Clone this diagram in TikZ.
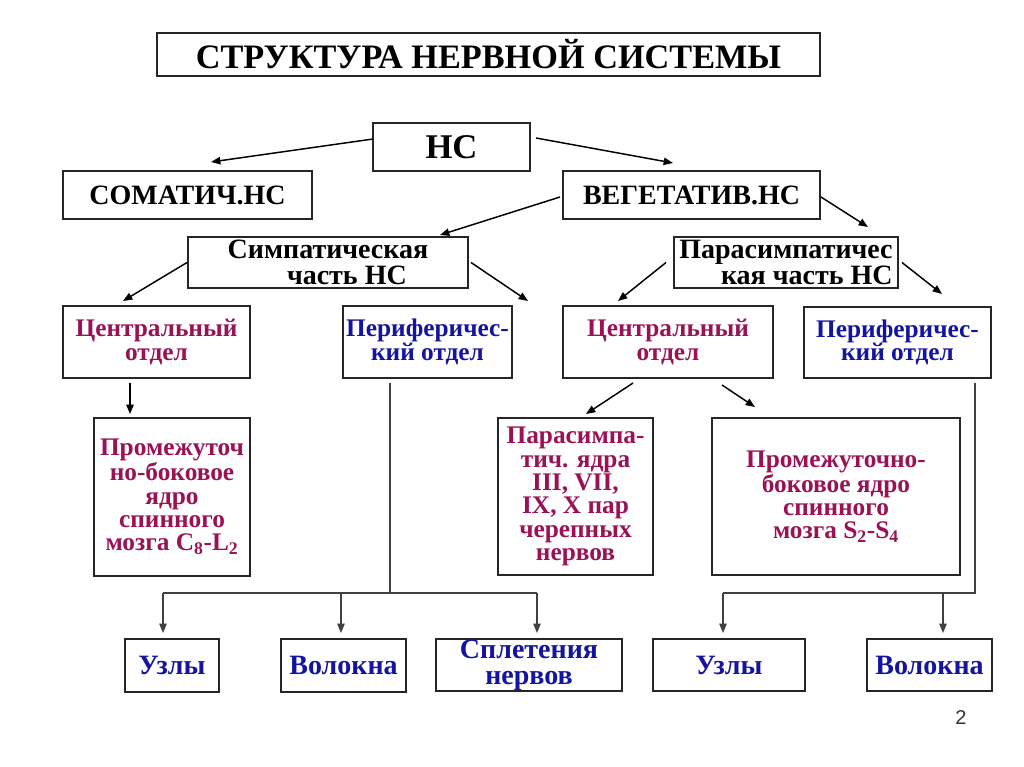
\documentclass[tikz,border=0pt]{standalone}
\usepackage{fontspec}
\setmainfont{Liberation Serif}
\setsansfont{Liberation Sans}
\usetikzlibrary{arrows.meta,calc}
\definecolor{crim}{RGB}{155,18,84}
\definecolor{tblue}{RGB}{20,20,160}
\begin{document}
\begin{tikzpicture}[x=0.75pt,y=-0.75pt,
  box/.style={draw=black!85, line width=1.3pt, inner sep=0pt, outer sep=0pt, align=center},
  sz/.style 2 args={minimum width=#1pt, minimum height=#2pt},
  fA/.style={font=\fontsize{25.7}{28}\selectfont\bfseries},
  fB/.style={font=\fontsize{21}{24}\selectfont\bfseries},
  fC/.style={font=\fontsize{21}{19}\selectfont\bfseries},
  fD/.style={font=\fontsize{19}{17.6}\selectfont\bfseries},
  fE/.style={font=\fontsize{19}{17.5}\selectfont\bfseries},
  fF/.style={font=\fontsize{21}{19.5}\selectfont\bfseries},
  arr/.style={line width=1.1pt, -{Triangle[length=7pt,width=5.5pt]}},
  tree/.style={line width=1pt, draw=black!75},
  treearr/.style={tree, -{Triangle[length=7pt,width=5.5pt]}}]
\fill[white] (0,0) rectangle (1024,767);
\useasboundingbox (0,0) rectangle (1024,767);
% boxes
\node[box, fA, sz={497.25}{32.25}] (title) at (488.5,54.5) {СТРУКТУРА НЕРВНОЙ СИСТЕМЫ};
\node[box, font=\fontsize{26}{28}\selectfont\bfseries, sz={117.75}{36}] (hc) at (451.5,147) {НС};
\node[box, fB, sz={186.75}{36}] (som) at (187.5,195) {СОМАТИЧ.НС};
\node[box, fB, sz={192.75}{36}] (veg) at (691.5,195) {ВЕГЕТАТИВ.НС};
\node[box, fC, sz={210}{38.25}] (sym) at (328,262.5) {Симпатическая\\\hspace*{1.35em}часть НС};
\node[box, fC, align=right, sz={168}{38.25}] (par) at (786,262.5) {Парасимпатичес\\кая часть НС};
\node[box, fD, text=crim, sz={140.25}{54}] (cL) at (156.5,342) {Центральный\\отдел};
\node[box, fD, text=tblue, sz={126.75}{54}] (pL) at (427.5,342) {Периферичес-\\кий отдел};
\node[box, fD, text=crim, sz={157.5}{54}] (cR) at (668,342) {Центральный\\отдел};
\node[box, fD, text=tblue, sz={140.25}{53.25}] (pR) at (897.5,342.5) {Периферичес-\\кий отдел};
\node[box, fE, text=crim, sz={117}{118.5}] (prL) at (172,497) {Промежуточ\\но-боковое\\ядро\\спинного\\мозга C\textsubscript{8}-L\textsubscript{2}};
\node[box, fE, text=crim, sz={116.25}{117.75}] (nuc) at (575.5,496.5) {Парасимпа-\\тич. ядра\\III, VII,\\IX, X пар\\черепных\\нервов};
\node[box, fE, text=crim, sz={186}{117.75}] (prR) at (836,496.5) {Промежуточно-\\боковое ядро\\спинного\\мозга S\textsubscript{2}-S\textsubscript{4}};
\node[box, fF, text=tblue, sz={70.5}{39.75}] (u1) at (172,665.5) {Узлы};
\node[box, fF, text=tblue, sz={93.75}{39.75}] (v1) at (343.5,665.5) {Волокна};
\node[box, fF, text=tblue, sz={139.5}{39}] (spl) at (529,665) {Сплетения\\нервов};
\node[box, fF, text=tblue, sz={114}{39}] (u2) at (729,665) {Узлы};
\node[box, fF, text=tblue, sz={93.75}{39}] (v2) at (929.5,665) {Волокна};
\node[font=\sffamily\fontsize{15}{17}\selectfont, text=black!80] (pg) at (961,718) {2};
% arrows
\draw[arr] ($(hc.west)+(0,-8)$) -- ($(som.north)+(23.5,-9)$);
\draw[arr] ($(hc.east)+(6,-9)$) -- ($(veg.north)+(-18.5,-8)$);
\draw[arr] ($(veg.west)+(-3,2)$) -- ($(sym.north)+(112,-2)$);
\draw[arr] ($(veg.east)+(1,2)$) -- ($(par.north)+(82,-10)$);
\draw[arr] ($(sym.west)+(-1,0)$) -- ($(cL.north)+(-33.5,-5)$);
\draw[arr] ($(sym.east)+(3,0)$) -- ($(pL.north)+(100.5,-5)$);
\draw[arr] ($(par.west)+(-8,0)$) -- ($(cR.north)+(-50,-5)$);
\draw[arr] ($(par.east)+(4,0)$) -- ($(pR.north)+(44.5,-13)$);
\draw[arr] ($(cL.south)+(-26.5,5)$) -- ($(prL.north)+(-42,-4)$);
\draw[arr] ($(cR.south)+(-35,5)$) -- ($(nuc.north)+(10.5,-4)$);
\draw[arr] ($(cR.south)+(54,7)$) -- ($(prR.north)+(-81,-11)$);
% left peripheral tree
\coordinate (jL) at (390,593);
\coordinate (jL1) at (163,593);
\coordinate (jL2) at (341,593);
\coordinate (jL3) at (537,593);
\draw[tree] ($(pL.south)+(-37.5,5)$) -- (jL);
\draw[tree] (jL1) -- (jL3);
\draw[treearr] (jL1) -- ($(u1.north)+(-9,-6)$);
\draw[treearr] (jL2) -- ($(v1.north)+(-2.5,-6)$);
\draw[treearr] (jL3) -- ($(spl.north)+(8,-6)$);
% right peripheral tree
\coordinate (jR) at (975,593);
\coordinate (jR1) at (723,593);
\coordinate (jR2) at (943,593);
\draw[tree] ($(pR.south)+(77.5,5)$) -- (jR) -- (jR1);
\draw[treearr] (jR1) -- ($(u2.north)+(-6,-6)$);
\draw[treearr] (jR2) -- ($(v2.north)+(13.5,-6)$);
\end{tikzpicture}
\end{document}
